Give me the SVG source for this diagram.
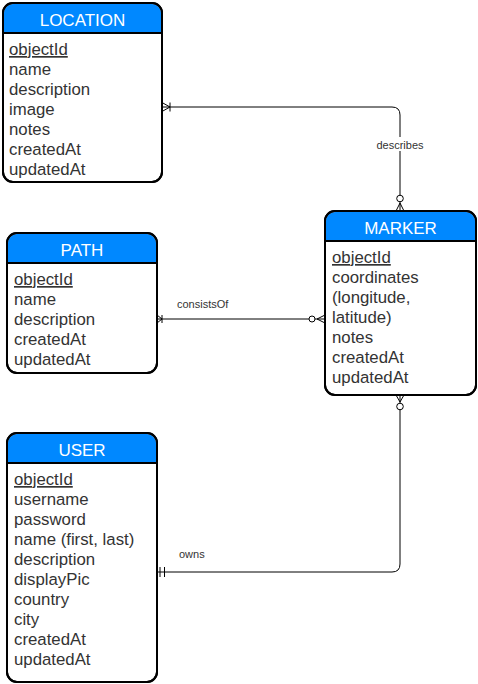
<svg xmlns="http://www.w3.org/2000/svg" width="478" height="684" viewBox="0 0 478 684">
<style>
.box{fill:#fff;stroke:#000;stroke-width:2}
.hdr{fill:#0088ff;stroke:none}
.sep{stroke:#000;stroke-width:2}
.title{font-family:"Liberation Sans",Arial,sans-serif;font-size:17px;fill:#fff;text-anchor:middle}
.attr{font-family:"Liberation Sans",Arial,sans-serif;font-size:16.8px;fill:#333}
.pk{text-decoration:underline}
.conn{fill:none;stroke:#000;stroke-width:1}
.lbl{font-family:"Liberation Sans",Arial,sans-serif;font-size:11px;fill:#333}
.ring{fill:#fff;stroke:#000;stroke-width:1}
</style>
<rect width="478" height="684" fill="#fff"/>

<g id="connectors">
  <!-- LOCATION - MARKER : describes -->
  <path class="conn" d="M162,107 H392 Q400,107 400,115 V211"/>
  <path class="conn" d="M162,102.5 L170,107 L162,111.5 M170,102.5 V111.5"/>
  <path class="conn" d="M396,211 L400,203 L404,211"/>
  <circle class="ring" cx="400" cy="198.5" r="3.3"/>
  <rect x="375" y="137" width="50" height="14" fill="#fff"/>
  <text class="lbl" x="400" y="148.5" text-anchor="middle">describes</text>

  <!-- PATH - MARKER : consistsOf -->
  <path class="conn" d="M157,319 H325"/>
  <path class="conn" d="M157,315 L162,319 L157,323 M162,315 V323"/>
  <path class="conn" d="M325,315 L317,319 L325,323"/>
  <circle class="ring" cx="312" cy="319" r="3"/>
  <text class="lbl" x="177" y="307.5">consistsOf</text>

  <!-- USER - MARKER : owns -->
  <path class="conn" d="M157,572 H392 Q400,572 400,564 V395"/>
  <path class="conn" d="M160,567 V577 M164.5,567 V577"/>
  <path class="conn" d="M396,395 L400,402 L404,395"/>
  <circle class="ring" cx="400" cy="406.5" r="3.3"/>
  <text class="lbl" x="179" y="557.5">owns</text>
</g>

<g id="location">
  <rect class="box" x="3" y="3" width="159" height="179" rx="10"/>
  <path class="hdr" d="M4,33 V13 A9,9 0 0 1 13,4 H152 A9,9 0 0 1 161,13 V33 Z"/>
  <rect x="3" y="3" width="159" height="179" rx="10" fill="none" stroke="#000" stroke-width="2"/>
  <line class="sep" x1="3" y1="33" x2="162" y2="33"/>
  <text class="title" x="82.5" y="25.5">LOCATION</text>
  <text class="attr pk" x="9" y="55">objectId</text>
  <text class="attr" x="9" y="75">name</text>
  <text class="attr" x="9" y="95">description</text>
  <text class="attr" x="9" y="115">image</text>
  <text class="attr" x="9" y="135">notes</text>
  <text class="attr" x="9" y="155">createdAt</text>
  <text class="attr" x="9" y="175">updatedAt</text>
</g>

<g id="path">
  <rect class="box" x="7" y="233" width="150" height="140" rx="10"/>
  <path class="hdr" d="M8,263 V243 A9,9 0 0 1 17,234 H147 A9,9 0 0 1 156,243 V263 Z"/>
  <rect x="7" y="233" width="150" height="140" rx="10" fill="none" stroke="#000" stroke-width="2"/>
  <line class="sep" x1="7" y1="263" x2="157" y2="263"/>
  <text class="title" x="82" y="256">PATH</text>
  <text class="attr pk" x="14" y="285">objectId</text>
  <text class="attr" x="14" y="305">name</text>
  <text class="attr" x="14" y="325">description</text>
  <text class="attr" x="14" y="345">createdAt</text>
  <text class="attr" x="14" y="365">updatedAt</text>
</g>

<g id="marker">
  <rect class="box" x="325" y="211" width="151" height="184" rx="10"/>
  <path class="hdr" d="M326,241 V221 A9,9 0 0 1 335,212 H466 A9,9 0 0 1 475,221 V241 Z"/>
  <rect x="325" y="211" width="151" height="184" rx="10" fill="none" stroke="#000" stroke-width="2"/>
  <line class="sep" x1="325" y1="241" x2="476" y2="241"/>
  <text class="title" x="400.5" y="233.5">MARKER</text>
  <text class="attr pk" x="332" y="263">objectId</text>
  <text class="attr" x="332" y="283">coordinates</text>
  <text class="attr" x="332" y="303">(longitude,</text>
  <text class="attr" x="332" y="323">latitude)</text>
  <text class="attr" x="332" y="343">notes</text>
  <text class="attr" x="332" y="363">createdAt</text>
  <text class="attr" x="332" y="383">updatedAt</text>
</g>

<g id="user">
  <rect class="box" x="7" y="433" width="150" height="249" rx="10"/>
  <path class="hdr" d="M8,463 V443 A9,9 0 0 1 17,434 H147 A9,9 0 0 1 156,443 V463 Z"/>
  <rect x="7" y="433" width="150" height="249" rx="10" fill="none" stroke="#000" stroke-width="2"/>
  <line class="sep" x1="7" y1="463" x2="157" y2="463"/>
  <text class="title" x="82" y="455.5">USER</text>
  <text class="attr pk" x="14" y="485">objectId</text>
  <text class="attr" x="14" y="505">username</text>
  <text class="attr" x="14" y="525">password</text>
  <text class="attr" x="14" y="545">name (first, last)</text>
  <text class="attr" x="14" y="565">description</text>
  <text class="attr" x="14" y="585">displayPic</text>
  <text class="attr" x="14" y="605">country</text>
  <text class="attr" x="14" y="625">city</text>
  <text class="attr" x="14" y="645">createdAt</text>
  <text class="attr" x="14" y="665">updatedAt</text>
</g>
</svg>
